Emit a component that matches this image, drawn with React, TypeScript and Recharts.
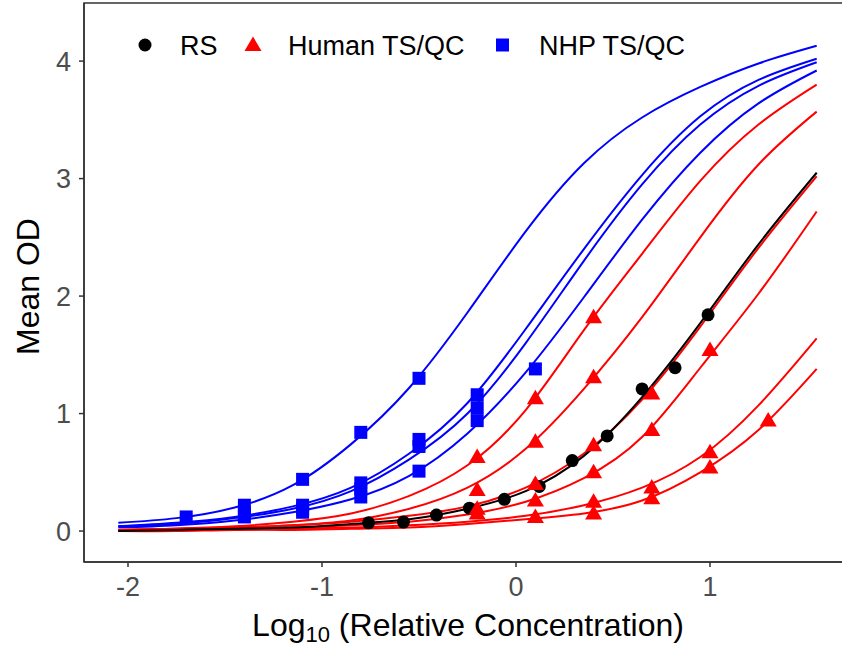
import {
  ComposedChart, Line, Scatter, XAxis, YAxis, ReferenceArea, Legend,
} from 'recharts'

const curveX = [-2.05, -1.75, -1.45, -1.15, -0.85, -0.55, -0.25, 0.05, 0.35, 0.65, 0.95, 1.25, 1.55]

// NHP TS/QC fits (blue)
const nhp1 = [0.07, 0.11, 0.20, 0.39, 0.74, 1.22, 1.86, 2.55, 3.13, 3.52, 3.78, 3.98, 4.13]
const nhp2 = [0.04, 0.07, 0.12, 0.21, 0.37, 0.66, 1.09, 1.72, 2.40, 3.03, 3.53, 3.84, 4.02]
const nhp3 = [0.04, 0.06, 0.11, 0.19, 0.34, 0.61, 1.00, 1.60, 2.30, 2.95, 3.46, 3.79, 3.99]
const nhp4 = [0.03, 0.05, 0.09, 0.16, 0.27, 0.47, 0.83, 1.35, 1.99, 2.65, 3.22, 3.64, 3.92]

// Human TS/QC fits (red)
const hum1 = [0.01, 0.02, 0.04, 0.08, 0.15, 0.30, 0.56, 1.03, 1.71, 2.36, 2.98, 3.46, 3.80]
const hum2 = [0.01, 0.02, 0.03, 0.05, 0.09, 0.19, 0.37, 0.70, 1.21, 1.82, 2.50, 3.12, 3.57]
const hum3 = [0.01, 0.02, 0.03, 0.05, 0.08, 0.13, 0.21, 0.37, 0.66, 1.12, 1.74, 2.41, 3.02]
const hum4 = [0.01, 0.01, 0.02, 0.03, 0.05, 0.08, 0.14, 0.25, 0.45, 0.80, 1.39, 2.02, 2.72]
const hum5 = [0.00, 0.01, 0.01, 0.02, 0.03, 0.05, 0.08, 0.13, 0.22, 0.37, 0.63, 1.07, 1.64]
const hum6 = [0.00, 0.00, 0.01, 0.01, 0.02, 0.03, 0.06, 0.10, 0.15, 0.26, 0.50, 0.86, 1.38]

// RS fit (black)
const rsFit = [0.00, 0.01, 0.02, 0.03, 0.06, 0.10, 0.19, 0.34, 0.64, 1.14, 1.77, 2.44, 3.05]

// measured points
const rsX = [-0.76, -0.58, -0.41, -0.24, -0.06, 0.12, 0.29, 0.47, 0.65, 0.82, 0.99]
const rsY = [0.07, 0.076, 0.136, 0.195, 0.27, 0.38, 0.60, 0.81, 1.21, 1.39, 1.84]

const humX = [-0.2, -0.2, -0.2, -0.2, 0.1, 0.1, 0.1, 0.1, 0.1, 0.4, 0.4, 0.4, 0.4, 0.4, 0.4, 0.7, 0.7, 0.7, 0.7, 1.0, 1.0, 1.0, 1.3]
const humY = [0.63, 0.35, 0.19, 0.15, 1.13, 0.76, 0.40, 0.26, 0.12, 1.82, 1.31, 0.73, 0.50, 0.25, 0.15, 1.17, 0.86, 0.37, 0.28, 1.54, 0.67, 0.54, 0.94]

const nhpX = [-1.7, -1.4, -1.4, -1.4, -1.1, -1.1, -1.1, -1.1, -0.8, -0.8, -0.8, -0.8, -0.5, -0.5, -0.5, -0.5, -0.2, -0.2, -0.2, 0.1]
const nhpY = [0.12, 0.22, 0.15, 0.12, 0.44, 0.22, 0.19, 0.16, 0.84, 0.41, 0.36, 0.29, 1.30, 0.78, 0.72, 0.51, 1.16, 1.05, 0.94, 1.38]

const xTicks = [-2, -1, 0, 1]
const yTicks = [0, 1, 2, 3, 4]
const xDomain = [-2.2268, 1.732]
const yDomain = [-0.2634, 4.4945]

const curves = [
  { key: 'nhp1', values: nhp1, color: '#0000ff' },
  { key: 'nhp2', values: nhp2, color: '#0000ff' },
  { key: 'nhp3', values: nhp3, color: '#0000ff' },
  { key: 'nhp4', values: nhp4, color: '#0000ff' },
  { key: 'hum1', values: hum1, color: '#ff0000' },
  { key: 'hum2', values: hum2, color: '#ff0000' },
  { key: 'hum3', values: hum3, color: '#ff0000' },
  { key: 'hum4', values: hum4, color: '#ff0000' },
  { key: 'hum5', values: hum5, color: '#ff0000' },
  { key: 'hum6', values: hum6, color: '#ff0000' },
  { key: 'rs', values: rsFit, color: '#000000' },
]

const rows = curveX.map((x, i) => {
  const row: Record<string, number> = { x }
  curves.forEach((c) => { row[c.key] = c.values[i] })
  return row
})

const toPoints = (xs: number[], ys: number[]) => xs.map((x, i) => ({ x, y: ys[i] }))
const rsPoints = toPoints(rsX, rsY)
const humPoints = toPoints(humX, humY)
const nhpPoints = toPoints(nhpX, nhpY)

const dot = (props: any) => <circle cx={props.cx} cy={props.cy} r={6.5} fill="#000" />
const tri = (props: any) => <polygon points={`${props.cx},${props.cy - 8.5} ${props.cx - 8.5},${props.cy + 6} ${props.cx + 8.5},${props.cy + 6}`} fill="#ff0000" />
const sq = (props: any) => <rect x={props.cx - 6.5} y={props.cy - 6.5} width={13} height={13} fill="#0000ff" />

function LegendBox() {
  return <svg width={620} height={44} style={{ display: 'block' }}>
    <circle cx={15} cy={20} r={6.5} fill="#000" />
    <text x={50} y={30} fontSize={27} fill="#000">RS</text>
    <polygon points="123,11.5 114.5,26 131.5,26" fill="#ff0000" />
    <text x={158} y={30} fontSize={27} fill="#000">Human TS/QC</text>
    <rect x={366} y={13.5} width={13} height={13} fill="#0000ff" />
    <text x={409} y={30} fontSize={27} fill="#000">NHP TS/QC</text>
  </svg>
}

function XTitle(props: any) {
  const vb = props.viewBox
  return <text x={vb.x + vb.width / 2} y={636} textAnchor="middle" fontSize={32} fill="#000">
    <tspan>Log</tspan><tspan fontSize={22} dy={6}>10</tspan><tspan dy={-6}> (Relative Concentration)</tspan>
  </text>
}

function YTitle(props: any) {
  const vb = props.viewBox
  const cy = vb.y + vb.height / 2 + 4
  return <text x={39} y={cy} transform={`rotate(-90, 39, ${cy})`} textAnchor="middle" fontSize={32} fill="#000">Mean OD</text>
}

export default function App() {
  return <div style={{ position: 'absolute', left: 0, top: 0, width: 842, height: 647, overflow: 'hidden', background: '#fff', fontFamily: '"Liberation Sans", Arial, sans-serif' }}>
    <ComposedChart width={862} height={647} data={rows} margin={{ top: 3, right: 10, bottom: 0, left: 0 }}>
      <XAxis dataKey="x" type="number" domain={xDomain} ticks={xTicks} allowDataOverflow
        tick={{ fontSize: 27, fill: '#4d4d4d' }} tickSize={5} tickMargin={10}
        axisLine={{ stroke: '#333', strokeWidth: 1.5 }} tickLine={{ stroke: '#333', strokeWidth: 1.5 }}
        height={85} label={<XTitle />} />
      <YAxis type="number" domain={yDomain} ticks={yTicks} allowDataOverflow
        tick={{ fontSize: 27, fill: '#4d4d4d' }} tickSize={5} tickMargin={8}
        axisLine={{ stroke: '#333', strokeWidth: 1.5 }} tickLine={{ stroke: '#333', strokeWidth: 1.5 }}
        width={84} label={<YTitle />} />
      <ReferenceArea x1={xDomain[0]} x2={xDomain[1]} y1={yDomain[0]} y2={yDomain[1]} fill="none" stroke="#333" strokeWidth={1.5} fillOpacity={0} />
      {curves.map((c) => <Line key={c.key} dataKey={c.key} type="natural" stroke={c.color} strokeWidth={2} dot={false} activeDot={false} isAnimationActive={false} legendType="none" />)}
      <Scatter name="RS" data={rsPoints} dataKey="y" shape={dot} isAnimationActive={false} />
      <Scatter name="Human TS/QC" data={humPoints} dataKey="y" shape={tri} isAnimationActive={false} />
      <Scatter name="NHP TS/QC" data={nhpPoints} dataKey="y" shape={sq} isAnimationActive={false} />
      <Legend layout="vertical" verticalAlign="middle" align="center" content={<LegendBox />}
        wrapperStyle={{ position: 'absolute', left: 130, top: 25, width: 620, height: 44 }} />
    </ComposedChart>
  </div>
}
